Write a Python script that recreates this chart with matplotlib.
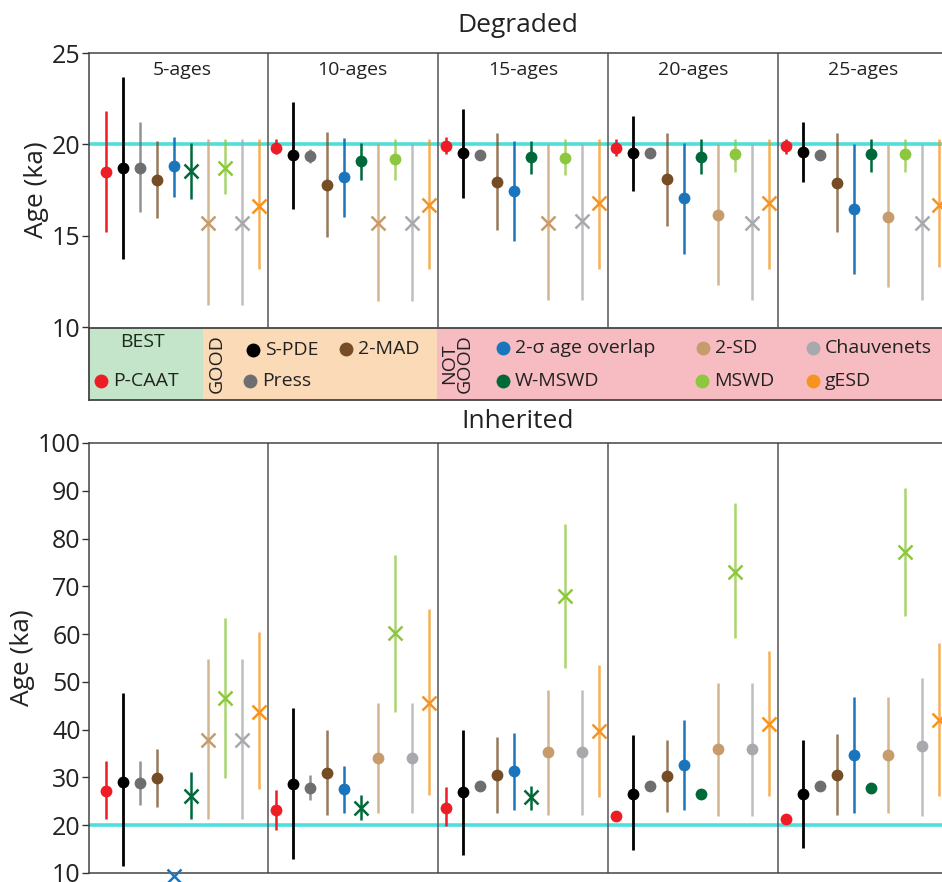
import numpy as np
import matplotlib
matplotlib.use("Agg")
from matplotlib import pyplot as plt

plt.rcParams['font.family'] = ['Open Sans', 'DejaVu Sans']

methods = ['P-CAAT', 'S-PDE', 'Press', '2-MAD', '2-σ age overlap', 'W-MSWD',
           '2-SD', 'MSWD', 'Chauvenets', 'gESD']
colors = ['#ee1c24', '#000000', '#6d6e70', '#754c24', '#1b75bc', '#00693a',
          '#c69c6d', '#8dc63f', '#a7a9ac', '#f7941d']
panels = ['5-ages', '10-ages', '15-ages', '20-ages', '25-ages']

# Degraded: central age, lower and upper error bar ends (None = no bar), X marker flag
deg_age = [[18.5, 18.7, 18.7, 18.05, 18.8, 18.55, 15.7, 18.7, 15.7, 16.6],
           [19.8, 19.4, 19.35, 17.8, 18.2, 19.1, 15.7, 19.2, 15.7, 16.7],
           [19.9, 19.55, 19.4, 17.95, 17.45, 19.3, 15.7, 19.25, 15.8, 16.8],
           [19.8, 19.55, 19.5, 18.1, 17.05, 19.3, 16.15, 19.45, 15.7, 16.8],
           [19.9, 19.6, 19.4, 17.9, 16.45, 19.45, 16.0, 19.45, 15.7, 16.7]]
deg_lo = [[15.2, 13.7, 16.3, 15.95, 17.1, 17.0, 11.2, 17.3, 11.2, 13.2],
          [19.45, 16.45, 19.0, 14.95, 16.0, 18.05, 11.4, 18.05, 11.4, 13.2],
          [19.45, 17.05, None, 15.3, 14.7, 18.4, 11.5, 18.3, 11.5, 13.2],
          [19.35, 17.45, None, 15.55, 14.0, 18.4, 12.3, 18.5, 11.5, 13.2],
          [19.45, 17.95, None, 15.2, 12.9, 18.5, 12.2, 18.5, 11.5, 13.3]]
deg_hi = [[21.8, 23.7, 21.2, 20.2, 20.4, 20.05, 20.3, 20.3, 20.3, 20.3],
          [20.3, 22.3, 19.75, 20.65, 20.35, 20.1, 20.05, 20.3, 20.05, 20.3],
          [20.4, 21.95, None, 20.6, 20.2, 20.2, 20.0, 20.3, 20.1, 20.3],
          [20.3, 21.55, None, 20.6, 20.1, 20.3, 20.0, 20.3, 20.0, 20.3],
          [20.3, 21.2, None, 20.6, 20.0, 20.3, 19.95, 20.3, 20.0, 20.3]]
deg_x = [[0, 0, 0, 0, 0, 1, 1, 1, 1, 1],
         [0, 0, 0, 0, 0, 0, 1, 0, 1, 1],
         [0, 0, 0, 0, 0, 0, 1, 0, 1, 1],
         [0, 0, 0, 0, 0, 0, 0, 0, 1, 1],
         [0, 0, 0, 0, 0, 0, 0, 0, 1, 1]]

# Inherited
inh_age = [[27.25, 29.1, 28.9, 29.8, 9.4, 26.2, 37.9, 46.6, 37.9, 43.7],
           [23.1, 28.7, 27.8, 30.9, 27.5, 23.6, 34.1, 60.2, 34.1, 45.6],
           [23.6, 26.9, 28.2, 30.5, 31.3, 25.9, 35.3, 67.9, 35.3, 39.7],
           [21.9, 26.6, 28.2, 30.3, 32.6, 26.6, 36.0, 73.1, 36.0, 41.1],
           [21.3, 26.6, 28.3, 30.6, 34.8, 27.8, 34.8, 77.1, 36.5, 42.1]]
inh_lo = [[21.2, 11.5, 24.3, 23.8, None, 21.2, 21.2, 29.9, 21.2, 27.5],
          [19.1, 13.0, 25.2, 22.2, 22.6, 21.0, 22.6, 43.8, 22.6, 26.4],
          [19.8, 13.7, None, 22.6, 23.1, 23.1, 22.2, 52.9, 22.2, 25.9],
          [None, 14.8, None, 22.7, 23.1, None, 22.0, 59.2, 22.0, 26.1],
          [None, 15.3, None, 22.2, 22.6, None, 22.6, 63.7, 22.0, 26.1]]
inh_hi = [[33.4, 47.7, 33.5, 36.0, None, 31.1, 54.7, 63.4, 54.7, 60.4],
          [27.3, 44.5, 30.6, 39.9, 32.3, 26.4, 45.6, 76.5, 45.6, 65.3],
          [28.0, 40.0, None, 38.4, 39.3, 28.2, 48.2, 83.1, 48.2, 53.6],
          [None, 38.8, None, 37.8, 42.1, None, 49.8, 87.4, 49.8, 56.4],
          [None, 37.8, None, 39.1, 46.8, None, 46.8, 90.6, 50.8, 58.1]]
inh_x = [[0, 0, 0, 0, 1, 1, 1, 1, 1, 1],
         [0, 0, 0, 0, 0, 1, 0, 1, 0, 1],
         [0, 0, 0, 0, 0, 1, 0, 1, 0, 1],
         [0, 0, 0, 0, 0, 0, 0, 1, 0, 1],
         [0, 0, 0, 0, 0, 0, 0, 1, 0, 1]]

true_age = 20
W, H = 942, 882
fig = plt.figure(figsize=(W / 100, H / 100), dpi=100)

def frac(x0, y0, x1, y1):
    # pixel box -> figure fraction
    return [x0 / W, 1 - y1 / H, (x1 - x0) / W, (y1 - y0) / H]

def draw_panel(ax, age, lo, hi, xflag, ylim, yticks, labels):
    ax.set_xlim(-0.5, 50)
    ax.set_ylim(*ylim)
    ax.axhline(true_age, color='#4fdede', lw=2.6, zorder=1)
    for k in range(len(panels)):
        if k > 0:
            ax.axvline(10 * k, color='#555555', lw=1.1, zorder=2)
        if labels:
            ax.text(10 * k + 5, 0.938, panels[k], transform=ax.get_xaxis_transform(),
                    ha='center', va='center', fontsize=14, color='#222222')
        for i in range(len(methods)):
            x = 10 * k + i + 0.5
            c = colors[i]
            if lo[k][i] is not None:
                ax.plot([x, x], [lo[k][i], hi[k][i]], color=c, lw=2.0 if i == 1 else 1.8,
                        alpha=1.0 if i in (0, 1, 4, 5) else 0.75, zorder=3,
                        solid_capstyle='butt')
            if xflag[k][i]:
                ax.plot(x, age[k][i], 'x', color=c, ms=10, mew=1.8, zorder=4, clip_on=False)
            else:
                ax.plot(x, age[k][i], 'o', color=c, ms=8.5, mec='none', zorder=4)
    ax.set_xticks([])
    ax.set_yticks(yticks)
    ax.tick_params(axis='y', labelsize=18, length=5, width=1, colors='#333333',
                   labelcolor='#222222', pad=1)
    ax.set_ylabel('Age (ka)', fontsize=19, color='#222222', labelpad=2)
    for s in ax.spines.values():
        s.set_color('#444444')
        s.set_linewidth(1.1)
    ax.spines['right'].set_visible(False)

ax1 = fig.add_axes(frac(89, 53, 948, 327))
draw_panel(ax1, deg_age, deg_lo, deg_hi, deg_x, (10, 25), [10, 15, 20, 25], True)
ax1.spines['bottom'].set_visible(False)

ax2 = fig.add_axes(frac(89, 443, 948, 873))
draw_panel(ax2, inh_age, inh_lo, inh_hi, inh_x, (10, 100), list(range(10, 101, 10)), False)

fig.text(518 / W, 1 - 25 / H, 'Degraded', ha='center', va='center', fontsize=19, color='#222222')
fig.text(518 / W, 1 - 422 / H, 'Inherited', ha='center', va='center', fontsize=19, color='#222222')

# legend strip
axl = fig.add_axes(frac(89, 328, 948, 400))
axl.set_xlim(89, 948)
axl.set_ylim(400, 328)
axl.axvspan(89, 203, color='#c4e5c9', lw=0)
axl.axvspan(203, 437, color='#fbdab7', lw=0)
axl.axvspan(437, 948, color='#f7bbc2', lw=0)
axl.set_xticks([])
axl.set_yticks([])
for s in axl.spines.values():
    s.set_color('#444444')
    s.set_linewidth(1.3)
axl.spines['right'].set_visible(False)

fs = 14
axl.text(142, 342, 'BEST', ha='center', va='center', fontsize=fs, color='#1d2b1d')
axl.text(217, 364, 'GOOD', ha='center', va='center', rotation=90, fontsize=fs, color='#222222')
axl.text(457, 364, 'NOT\nGOOD', ha='center', va='center', rotation=90, fontsize=fs,
         color='#222222', linespacing=0.8)
leg_pos = [(101, 381), (253, 350), (250, 381), (346, 349), (503, 348), (503, 381),
           (703, 348), (702, 381), (813, 348), (813, 381)]
for i, (px, py) in enumerate(leg_pos):
    axl.plot(px, py, 'o', color=colors[i], ms=10, mec='none')
    axl.text(px + 12, py, methods[i], ha='left', va='center', fontsize=fs, color='#222222')

fig.savefig('out.png', dpi=100)
